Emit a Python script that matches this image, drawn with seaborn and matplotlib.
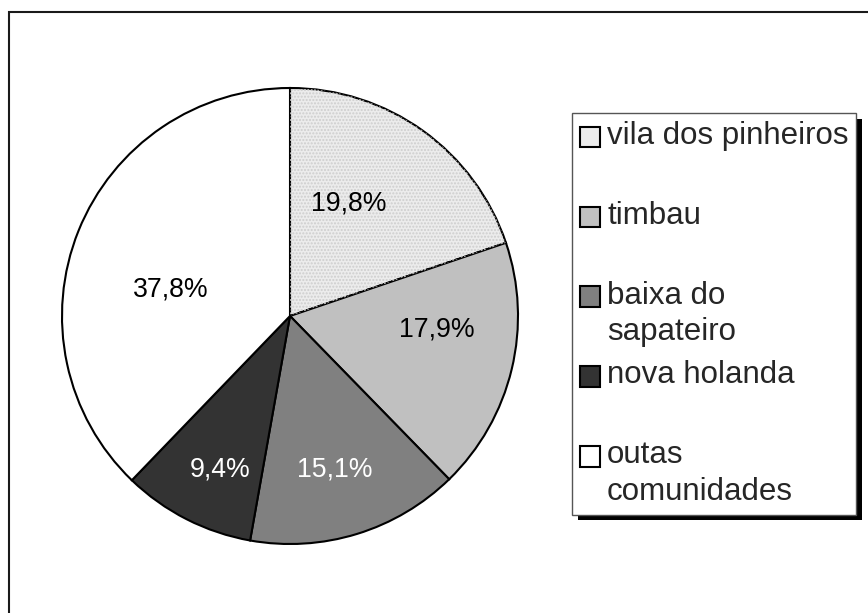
import matplotlib
matplotlib.use('Agg')
import matplotlib.pyplot as plt
import matplotlib.patheffects as pe
from matplotlib.patches import Rectangle, Wedge
from matplotlib.legend_handler import HandlerPatch
import seaborn as sns

# data
communities = ['vila dos pinheiros', 'timbau', 'baixa do\nsapateiro',
               'nova holanda', 'outas\ncomunidades']
shares = [19.8, 17.9, 15.1, 9.4, 37.8]
fills = ['#ececec', '#c0c0c0', '#808080', '#333333', '#ffffff']
label_colors = ['black', 'black', 'white', 'white', 'black']
# small nudges of the % labels (axes data units), Excel-like placement
label_nudge = [(-0.11, -0.02), (0.03, 0.09), (0.01, -0.07), (-0.02, -0.11), (0.06, -0.12)]

sns.set_theme(style='white')
plt.rcParams['font.family'] = ['Liberation Sans', 'DejaVu Sans']

fig = plt.figure(figsize=(8.68, 6.13), dpi=100)
ax = fig.add_axes([62 / 868, 69 / 613, 456 / 868, 456 / 613])

wedges, texts, autotexts = ax.pie(
    shares, colors=fills, startangle=90, counterclock=False,
    autopct=lambda p: f'{p:.1f}%'.replace('.', ','), pctdistance=0.63,
    wedgeprops=dict(edgecolor='black', linewidth=1.5),
    textprops=dict(fontsize=19.2))
for t, c, (dx, dy) in zip(autotexts, label_colors, label_nudge):
    t.set_color(c)
    x, y = t.get_position()
    t.set_position((x + dx, y + dy))

# speckled look for the first slice
w0 = wedges[0]
ax.add_patch(Wedge(w0.center, w0.r, w0.theta1, w0.theta2, facecolor='none',
                   edgecolor='#cdcdcd', linewidth=0, hatch='.....'))
ax.set_xlim(-1, 1)
ax.set_ylim(-1, 1)
ax.set_aspect('equal')


# legend: every entry gets two lines, square sits next to the first line
def top_square(legend, orig_handle, xdescent, ydescent, width, height, fontsize):
    return Rectangle((-xdescent, -ydescent + 0.56 * fontsize), width, height)


labels = [c if '\n' in c else c + '\n' for c in communities]
leg = fig.legend(wedges, labels, loc='upper left',
                 bbox_to_anchor=(572 / 868, 1 - 113 / 613), borderaxespad=0,
                 fontsize=22.5, frameon=True, fancybox=False, framealpha=1,
                 edgecolor='#555555', handlelength=0.65, handleheight=0.65,
                 handletextpad=0.22, borderpad=0.25, labelspacing=0.43,
                 handler_map={Wedge: HandlerPatch(patch_func=top_square)})
for t in leg.get_texts():
    t.set_linespacing(1.28)
frame = leg.get_frame()
frame.set_linewidth(1.0)
frame.set_path_effects([pe.SimplePatchShadow(offset=(4, -4), shadow_rgbFace='black', alpha=1),
                        pe.Normal()])

# outer frame around the chart area
fig.add_artist(Rectangle((9 / 868, -0.1), 1.2, 1.1 - 12 / 613, transform=fig.transFigure,
                         fill=False, edgecolor='#1a1a1a', linewidth=1.5, clip_on=False))

fig.savefig('out.png', dpi=100)
